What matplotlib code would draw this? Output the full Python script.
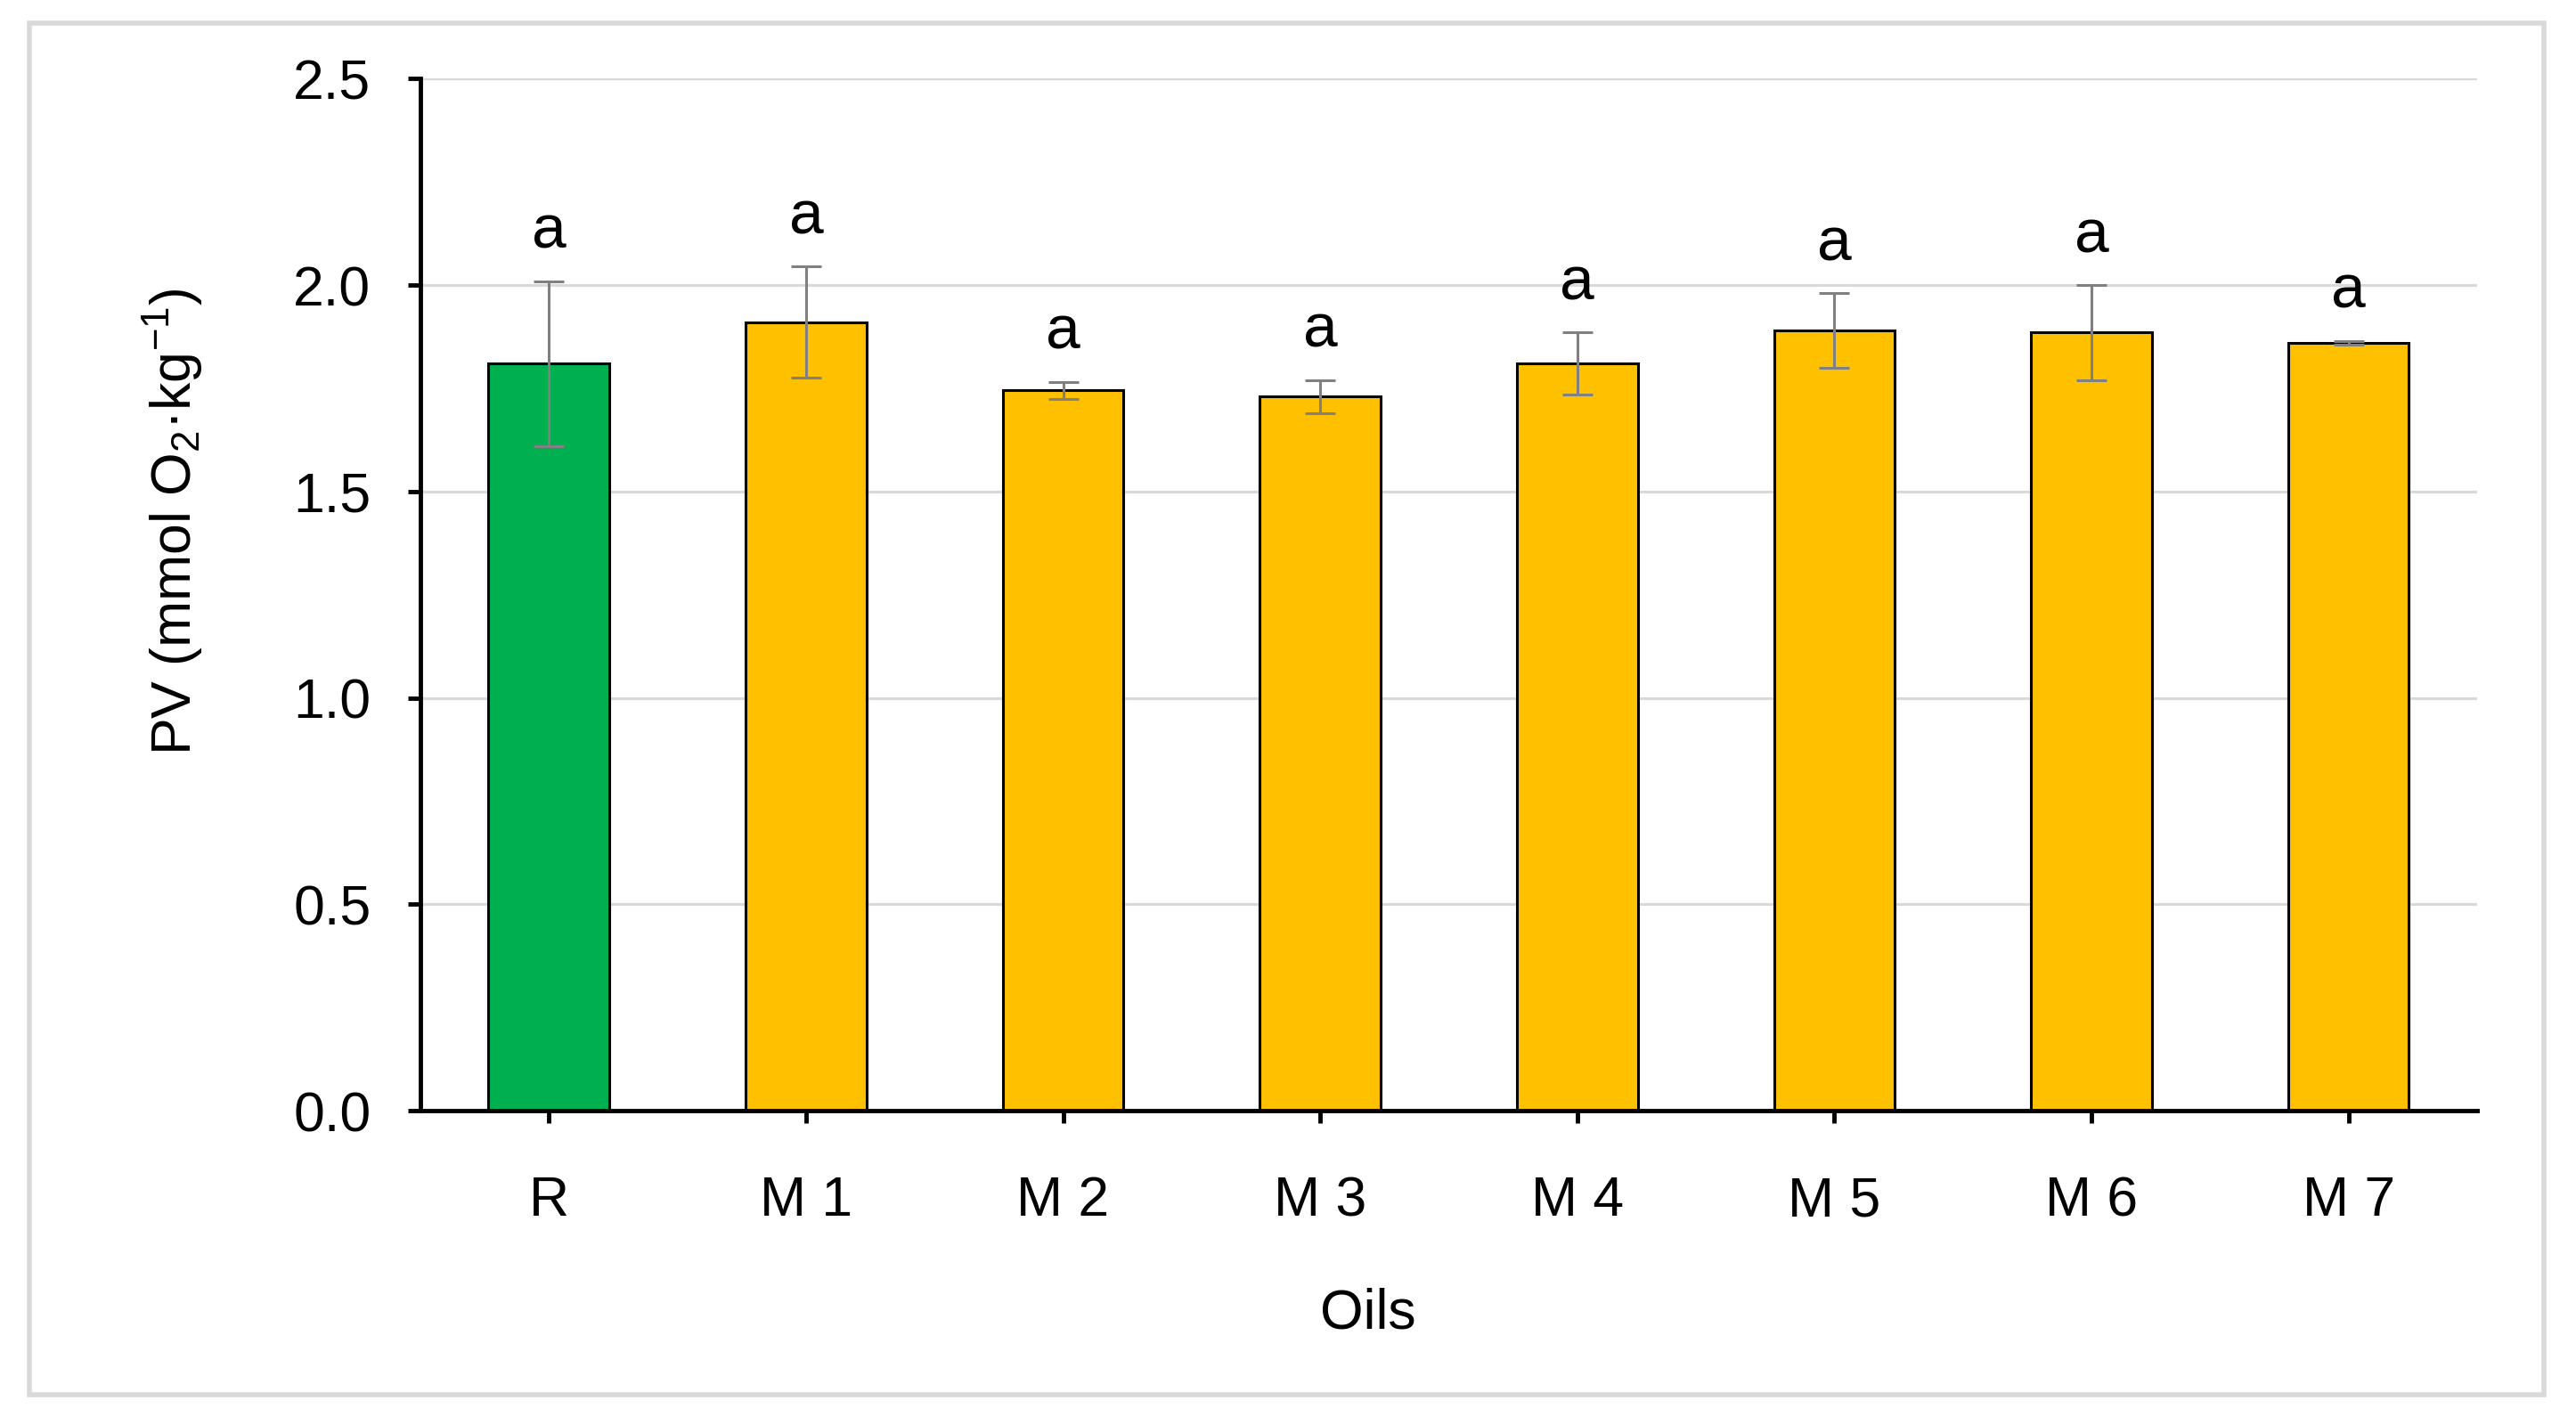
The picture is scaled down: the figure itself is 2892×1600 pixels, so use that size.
import numpy as np
import matplotlib
matplotlib.use("Agg")
import matplotlib.pyplot as plt
from matplotlib.patches import Rectangle

# data
oils = ["R", "M 1", "M 2", "M 3", "M 4", "M 5", "M 6", "M 7"]
pv_mean = [1.81, 1.91, 1.745, 1.73, 1.81, 1.89, 1.885, 1.86]
pv_sd = [0.20, 0.135, 0.02, 0.04, 0.075, 0.09, 0.115, 0.005]
letters = ["a", "a", "a", "a", "a", "a", "a", "a"]

green = "#00b050"
yellow = "#ffc000"
bar_colors = [green] + [yellow] * 7

plt.rcParams["font.family"] = ["Liberation Sans", "DejaVu Sans"]
plt.rcParams["mathtext.fontset"] = "custom"
plt.rcParams["mathtext.rm"] = "Liberation Sans"
plt.rcParams["mathtext.it"] = "Liberation Sans:italic"

fig = plt.figure(figsize=(28.92, 16), dpi=100)
ax = fig.add_axes([0.1632, 0.2206, 0.7984, 0.7241])

x = np.arange(len(oils))
ax.bar(x, pv_mean, width=0.47, color=bar_colors, edgecolor="black",
       linewidth=2.2, zorder=3)
ax.errorbar(x, pv_mean, yerr=pv_sd, fmt="none", ecolor="#808080",
            elinewidth=2.2, capsize=12, capthick=2.2, zorder=4)

for xi, m, s, t in zip(x, pv_mean, pv_sd, letters):
    ax.text(xi, m + s + 0.05, t, ha="center", va="bottom", fontsize=50)

ax.set_xlim(-0.5, len(oils) - 0.5)
ax.set_ylim(0, 2.5)
ax.set_yticks(np.arange(0, 2.51, 0.5))
ax.set_yticklabels([f"{v:.1f}" for v in np.arange(0, 2.51, 0.5)])
ax.set_xticks(x)
ax.set_xticklabels(oils)
ax.yaxis.grid(True, color="#d9d9d9", linewidth=2.2, zorder=0)
ax.set_axisbelow(True)

for side in ["top", "right"]:
    ax.spines[side].set_visible(False)
for side in ["left", "bottom"]:
    ax.spines[side].set_linewidth(3.5)
    ax.spines[side].set_zorder(5)

ax.tick_params(axis="y", direction="out", length=10, width=3.5,
               labelsize=45, pad=30)
ax.tick_params(axis="x", direction="out", length=10, width=3.5,
               labelsize=45, pad=42)

fig.text(0.531, 0.078, "Oils", ha="center", va="center", fontsize=45)
fig.text(0.067, 0.634, "PV (mmol O$_2$·kg$^{-1}$)", ha="center",
         va="center", rotation=90, fontsize=45)

# light grey frame around the whole chart
fig.patches.append(Rectangle((0.0115, 0.021), 0.976, 0.963,
                             transform=fig.transFigure, fill=False,
                             edgecolor="#d9d9d9", linewidth=4))

fig.savefig("out.png", dpi=100)
